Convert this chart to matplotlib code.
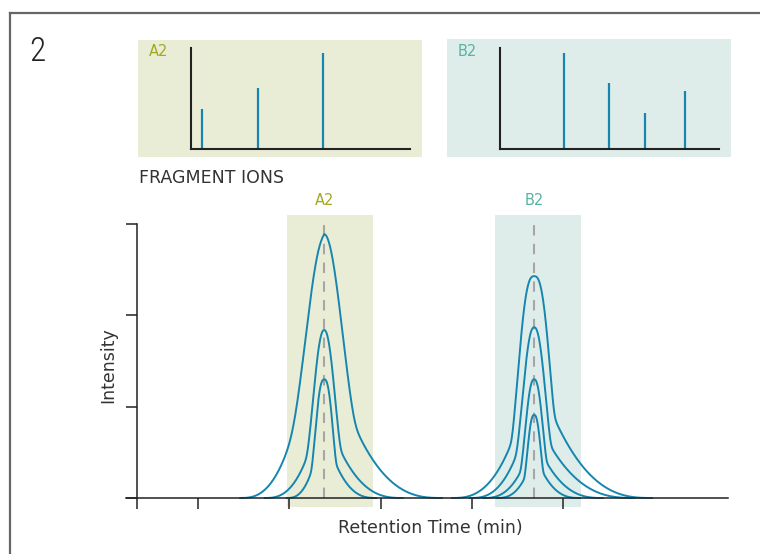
import numpy as np
import matplotlib
matplotlib.use('Agg')
import matplotlib.pyplot as plt
from matplotlib.patches import Rectangle

# 크로마토그램 피크 (A2, B2) - 그림에서 읽은 값
peak_names = ['A2', 'B2']
peak_centers = [2.05, 4.35]
peak_windows = [(1.643, 2.585), (3.921, 4.863)]

# 높이, 폭, 모양 지수, 왼쪽/오른쪽 끝, 꺾이는 지점 높이(상대값)
a2_heights = [2.89, 1.84, 1.30]
a2_widths = [0.208, 0.118, 0.092]
a2_shape = [2.0, 2.2, 2.6]
a2_left = [0.92, 0.65, 0.41]
a2_right = [1.29, 0.86, 0.57]
a2_knee_left = [0.24, 0.24, 0.22]
a2_knee_right = [0.27, 0.28, 0.28]

b2_heights = [2.43, 1.87, 1.30, 0.91]
b2_widths = [0.169, 0.125, 0.094, 0.070]
b2_shape = [2.7, 2.3, 2.4, 2.5]
b2_left = [0.90, 0.70, 0.56, 0.41]
b2_right = [1.29, 1.10, 0.75, 0.50]
b2_knee_left = [0.25, 0.25, 0.22, 0.23]
b2_knee_right = [0.36, 0.30, 0.30, 0.30]

x_ticks = [0, 0.67, 1.67, 2.67, 3.67, 4.67]
y_ticks = [0, 1, 2, 3]

# 조각 이온 스펙트럼 (상대 강도)
a2_ion_mz = [5.3, 30.7, 60.2]
a2_ion_int = [0.42, 0.63, 1.0]
b2_ion_mz = [29.1, 49.8, 66.2, 84.3]
b2_ion_int = [1.0, 0.69, 0.37, 0.60]

blue = '#1586af'
olive_bg = '#eaedd6'
teal_bg = '#dfedea'
olive_txt = '#a3a81f'
teal_txt = '#55b4a4'
dark = '#222222'

W, H = 760, 554


def fx(px):
    return px / W


def fy(py):
    return 1 - py / H


def side(d, s, p, L, k):
    # 중심부(가우시안) + 꼬리, 꺾이는 지점에서 부드럽게 연결
    g = np.exp(-0.5 * (d / s) ** p)
    dk = s * (-2 * np.log(k)) ** (1 / p)
    t = k * np.clip((L - d) / (L - dk), 0, None) ** 2.7
    m = 10
    sm = (g ** m + t ** m) ** (1 / m)
    t0 = k * (L / (L - dk)) ** 2.7
    return sm / (1 + t0 ** m) ** (1 / m)


def peak(center, h, s, p, left, right, kl, kr):
    x = np.linspace(center - left, center + right, 600)
    d = x - center
    y = np.where(d < 0, side(-d, s, p, left, kl), side(d, s, p, right, kr))
    return x, h * y


fig = plt.figure(figsize=(W / 100, H / 100), dpi=100)

# 테두리 (위, 왼쪽)
fig.add_artist(plt.Line2D([fx(9.5), 1], [fy(13), fy(13)], color='#666666', lw=1.6))
fig.add_artist(plt.Line2D([fx(9.5), fx(9.5)], [fy(13), 0], color='#666666', lw=1.6))
fig.text(fx(29), fy(52), '2', fontsize=24, color=dark, va='center', ha='left',
         family=['Roboto Condensed', 'Roboto', 'DejaVu Sans'], fontweight='light')

# 메인 크로마토그램
ax = fig.add_axes([fx(126), fy(507), fx(728) - fx(126), fy(215) - fy(507)])
ax.set_xlim(-0.1205, 6.473)
ax.set_ylim(-0.0986, 3.0997)
ax.set_facecolor('none')

for (x0, x1), c in zip(peak_windows, [olive_bg, teal_bg]):
    ax.axvspan(x0, x1, color=c, lw=0, zorder=0)

for name, c, col in zip(peak_names, peak_centers, [olive_txt, teal_txt]):
    ax.vlines(c, 0, 3.02, colors='#a6a6a6', lw=1.5, linestyles=(0, (5, 4)), zorder=1)
    ax.text(c, 3.26, name, ha='center', va='center', color=col, fontsize=10.5, clip_on=False)

for params in zip(a2_heights, a2_widths, a2_shape, a2_left, a2_right,
                  a2_knee_left, a2_knee_right):
    x, y = peak(peak_centers[0], *params)
    ax.plot(x, y, color=blue, lw=1.4, zorder=3)
for params in zip(b2_heights, b2_widths, b2_shape, b2_left, b2_right,
                  b2_knee_left, b2_knee_right):
    x, y = peak(peak_centers[1], *params)
    ax.plot(x, y, color=blue, lw=1.4, zorder=3)

ax.spines['top'].set_visible(False)
ax.spines['right'].set_visible(False)
ax.spines['left'].set_position(('data', 0))
ax.spines['bottom'].set_position(('data', 0))
ax.spines['left'].set_bounds(0, 3)
for sp in ['left', 'bottom']:
    ax.spines[sp].set_color(dark)
    ax.spines[sp].set_linewidth(1.1)
    ax.spines[sp].set_zorder(4)
ax.set_xticks(x_ticks)
ax.set_yticks(y_ticks)
ax.tick_params(direction='out', length=8, width=1.1, color=dark,
               labelbottom=False, labelleft=False)

fig.text(fx(430), fy(528), 'Retention Time (min)', ha='center', va='center',
         fontsize=12.5, color='#333333')
fig.text(fx(108), fy(365), 'Intensity', ha='center', va='center', rotation=90,
         fontsize=12.5, color='#333333')
fig.text(fx(139), fy(178), 'FRAGMENT IONS', ha='left', va='center',
         fontsize=12.5, color='#333333')

# 조각 이온 삽입 그래프
insets = [
    (138, 422, 40, 157, 190.7, 410, olive_bg, olive_txt, 'A2', a2_ion_mz, a2_ion_int),
    (447, 731, 39, 157, 500, 719, teal_bg, teal_txt, 'B2', b2_ion_mz, b2_ion_int),
]
for bx0, bx1, by0, by1, ax0, ax1, bg, tc, name, mz, inten in insets:
    fig.add_artist(Rectangle((fx(bx0), fy(by1)), fx(bx1) - fx(bx0), fy(by0) - fy(by1),
                             transform=fig.transFigure, color=bg, lw=0, zorder=0))
    fig.text(fx(bx0 + 11), fy(52), name, ha='left', va='center', color=tc, fontsize=10.5)
    iax = fig.add_axes([fx(ax0), fy(149), fx(ax1) - fx(ax0), fy(47.7) - fy(149)])
    iax.set_facecolor('none')
    iax.set_xlim(0, 100)
    iax.set_ylim(0, 1.052)
    iax.vlines(mz, 0, inten, colors=blue, lw=1.6)
    iax.spines['top'].set_visible(False)
    iax.spines['right'].set_visible(False)
    for sp in ['left', 'bottom']:
        iax.spines[sp].set_color(dark)
        iax.spines[sp].set_linewidth(1.5)
    iax.set_xticks([])
    iax.set_yticks([])

fig.savefig('out.png', dpi=100)
